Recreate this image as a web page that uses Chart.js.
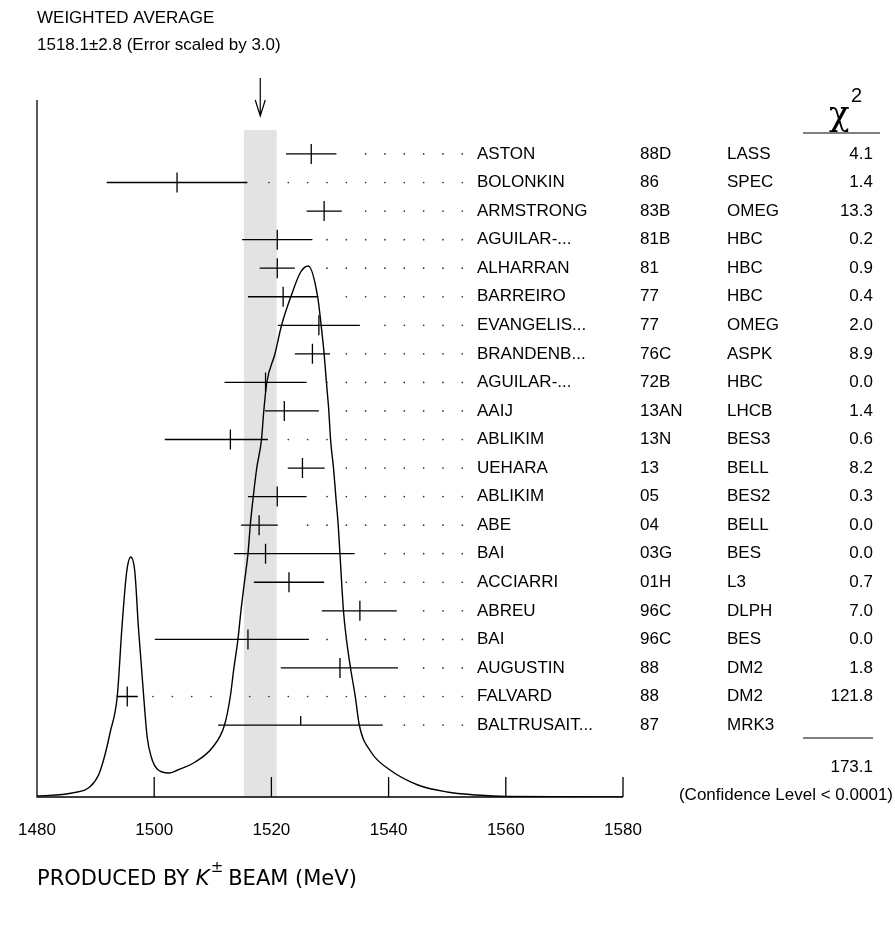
<!DOCTYPE html>
<html>
<head>
<meta charset="utf-8">
<script src="https://cdn.jsdelivr.net/npm/chart.js@4/dist/chart.umd.min.js"></script>
<style>
  html, body { margin: 0; padding: 0; background: #fff; }
</style>
</head>
<body>
<canvas id="chart" width="895" height="929"></canvas>
<script>
// measurements, top to bottom
const authors = ['ASTON', 'BOLONKIN', 'ARMSTRONG', 'AGUILAR-...', 'ALHARRAN', 'BARREIRO', 'EVANGELIS...',
  'BRANDENB...', 'AGUILAR-...', 'AAIJ', 'ABLIKIM', 'UEHARA', 'ABLIKIM', 'ABE', 'BAI', 'ACCIARRI',
  'ABREU', 'BAI', 'AUGUSTIN', 'FALVARD', 'BALTRUSAIT...'];
const years = ['88D', '86', '83B', '81B', '81', '77', '77', '76C', '72B', '13AN', '13N', '13', '05', '04',
  '03G', '01H', '96C', '96C', '88', '88', '87'];
const techs = ['LASS', 'SPEC', 'OMEG', 'HBC', 'HBC', 'HBC', 'OMEG', 'ASPK', 'HBC', 'LHCB', 'BES3', 'BELL',
  'BES2', 'BELL', 'BES', 'L3', 'DLPH', 'BES', 'DM2', 'DM2', 'MRK3'];
const chi2 = ['4.1', '1.4', '13.3', '0.2', '0.9', '0.4', '2.0', '8.9', '0.0', '1.4', '0.6', '8.2', '0.3',
  '0.0', '0.0', '0.7', '7.0', '0.0', '1.8', '121.8', ''];
const masses = [1526.8, 1503.9, 1529.0, 1521.0, 1521.0, 1522.0, 1528.1, 1527.0, 1519.0, 1522.2, 1513.0,
  1525.3, 1521.0, 1517.9, 1519.0, 1523.0, 1535.1, 1516.0, 1531.7, 1495.4, 1525.0];
const errLow = [4.3, 12.0, 3.0, 6.0, 3.0, 6.0, 7.0, 3.0, 7.0, 3.3, 11.2, 2.5, 5.0, 3.1, 5.4, 6.0, 6.5,
  15.9, 10.1, 1.8, 14.1];
const errHigh = [4.3, 12.0, 3.0, 6.0, 3.0, 6.0, 7.0, 3.0, 7.0, 5.9, 6.4, 3.8, 5.0, 3.2, 15.2, 6.0, 6.3,
  10.4, 9.9, 1.8, 14.0];

// ideogram curve (MeV, relative height)
const curveX = [1480, 1486, 1489, 1490.5, 1491.5, 1492.5, 1493.7, 1494.5, 1495.3, 1496, 1496.7, 1497.3,
  1498.2, 1498.8, 1499.5, 1500.5, 1502.5, 1504, 1507, 1510, 1512, 1513, 1513.6, 1514.3, 1514.8, 1515.4,
  1516, 1516.4, 1516.9, 1517.5, 1518.3, 1518.7, 1519.2, 1520.6, 1521.7, 1523.3, 1525, 1526.3, 1527.9,
  1528.5, 1529, 1529.4, 1529.8, 1530.1, 1530.6, 1531, 1531.4, 1531.7, 1532.3, 1532.8, 1533.5, 1534.3,
  1535, 1537, 1540, 1545, 1550, 1555, 1560, 1580];
const curveY = [1, 4, 10, 22, 40, 65, 101, 170, 225, 240, 225, 170, 101, 60, 40, 28, 24, 27, 35, 50, 72,
  101, 129, 158, 186, 215, 243, 272, 300, 329, 357, 386, 414, 443, 471, 500, 525, 531, 500, 471, 443,
  414, 386, 357, 329, 300, 272, 243, 186, 158, 129, 101, 72, 45, 28, 12, 5, 2, 0.5, 0];

const xTicks = [1480, 1500, 1520, 1540, 1560, 1580];
const average = 1518.1;
const averageErr = 2.8;
const totalChi2 = '173.1';

const FONT = '"Liberation Sans", Arial, sans-serif';
const ROWS = 24.41;
const rowValue = (i) => 22.52 - i;

const decor = {
  id: 'decor',
  beforeDatasetsDraw(chart) {
    const {ctx, scales: {x, y}} = chart;
    const top = 130, bottom = y.getPixelForValue(0);
    ctx.save();
    ctx.fillStyle = '#e3e3e3';
    const l = x.getPixelForValue(average - averageErr), r = x.getPixelForValue(average + averageErr);
    ctx.fillRect(l, top, r - l, bottom - top);
    ctx.restore();
  },
  afterDatasetsDraw(chart) {
    const {ctx, scales: {x, y}} = chart;
    const bottom = y.getPixelForValue(0);
    ctx.save();
    ctx.strokeStyle = '#000';
    ctx.fillStyle = '#000';
    ctx.lineWidth = 1.3;

    // axes
    ctx.beginPath();
    ctx.moveTo(x.left, 100); ctx.lineTo(x.left, bottom); ctx.lineTo(x.right, bottom);
    xTicks.forEach(t => {
      const px = x.getPixelForValue(t);
      ctx.moveTo(px, bottom); ctx.lineTo(px, bottom - 20);
    });
    ctx.stroke();
    ctx.font = '17px ' + FONT;
    ctx.textAlign = 'center';
    ctx.textBaseline = 'middle';
    xTicks.forEach(t => ctx.fillText(String(t), x.getPixelForValue(t), 830));

    // error bars, dots, table
    const dotGrid = [];
    for (let d = 462.3; d > 40; d -= 19.33) dotGrid.push(d);
    masses.forEach((m, i) => {
      const py = y.getPixelForValue(rowValue(i));
      const lo = x.getPixelForValue(m - errLow[i]), hi = x.getPixelForValue(m + errHigh[i]);
      const c = x.getPixelForValue(m);
      ctx.lineWidth = 1.3;
      ctx.beginPath();
      ctx.moveTo(lo, py); ctx.lineTo(hi, py);
      if (i === masses.length - 1) {
        ctx.moveTo(c, py); ctx.lineTo(c, py - 9);
      } else {
        ctx.moveTo(c, py - 10); ctx.lineTo(c, py + 10);
      }
      ctx.stroke();
      ctx.fillStyle = '#333';
      dotGrid.forEach(d => {
        if (d > hi + 14) {
          ctx.beginPath();
          ctx.arc(d, py, 0.85, 0, Math.PI * 2);
          ctx.fill();
        }
      });
      ctx.fillStyle = '#000';
      ctx.textAlign = 'left';
      ctx.fillText(authors[i], 477, py);
      ctx.fillText(years[i], 640, py);
      ctx.fillText(techs[i], 727, py);
      ctx.textAlign = 'right';
      ctx.fillText(chi2[i], 873, py);
    });

    // chi2 column header and total
    ctx.lineWidth = 1.2;
    ctx.beginPath();
    ctx.moveTo(803, 133); ctx.lineTo(880, 133);
    ctx.moveTo(803, 738); ctx.lineTo(873, 738);
    ctx.stroke();
    ctx.textAlign = 'left';
    ctx.font = '34px "DejaVu Serif", serif';
    ctx.fillText('\u03C7', 829, 116);
    ctx.font = '20px ' + FONT;
    ctx.fillText('2', 851, 96);
    ctx.font = '17px ' + FONT;
    ctx.textAlign = 'right';
    ctx.fillText(totalChi2, 873, 767);
    ctx.fillText('(Confidence Level < 0.0001)', 893, 795);

    // weighted average header and arrow
    ctx.textAlign = 'left';
    ctx.fillText('WEIGHTED AVERAGE', 37, 18);
    ctx.fillText(average.toFixed(1) + '\u00B1' + averageErr.toFixed(1) + ' (Error scaled by 3.0)', 37, 45);
    const ax = x.getPixelForValue(average);
    ctx.beginPath();
    ctx.moveTo(ax, 78); ctx.lineTo(ax, 116);
    ctx.moveTo(ax - 5, 100); ctx.lineTo(ax, 116); ctx.lineTo(ax + 5, 100);
    ctx.stroke();

    // bottom caption
    ctx.font = '21px "DejaVu Sans", sans-serif';
    let cx = 37;
    ctx.fillText('PRODUCED BY ', cx, 880);
    cx += ctx.measureText('PRODUCED BY ').width;
    ctx.font = 'italic 21px "DejaVu Sans", sans-serif';
    ctx.fillText('K', cx, 880);
    cx += ctx.measureText('K').width + 1;
    ctx.font = '15px "DejaVu Sans", sans-serif';
    ctx.fillText('\u00B1', cx, 868);
    cx += ctx.measureText('\u00B1').width + 5;
    ctx.font = '21px "DejaVu Sans", sans-serif';
    ctx.fillText('BEAM (MeV)', cx, 880);
    ctx.restore();
  }
};

new Chart(document.getElementById('chart'), {
  type: 'line',
  data: {
    datasets: [{
      data: curveX.map((v, i) => ({x: v, y: curveY[i]})),
      yAxisID: 'y2',
      borderColor: '#000',
      borderWidth: 1.4,
      pointRadius: 0,
      cubicInterpolationMode: 'monotone',
      fill: false
    }]
  },
  options: {
    responsive: false,
    animation: false,
    devicePixelRatio: 1,
    layout: {padding: {left: 37, right: 272, top: 100, bottom: 132}},
    plugins: {legend: {display: false}, tooltip: {enabled: false}},
    scales: {
      x: {type: 'linear', min: 1480, max: 1580, display: false},
      y: {type: 'linear', min: 0, max: ROWS, display: false},
      y2: {type: 'linear', min: 0, max: 697, display: false}
    }
  },
  plugins: [decor]
});
</script>
</body>
</html>
